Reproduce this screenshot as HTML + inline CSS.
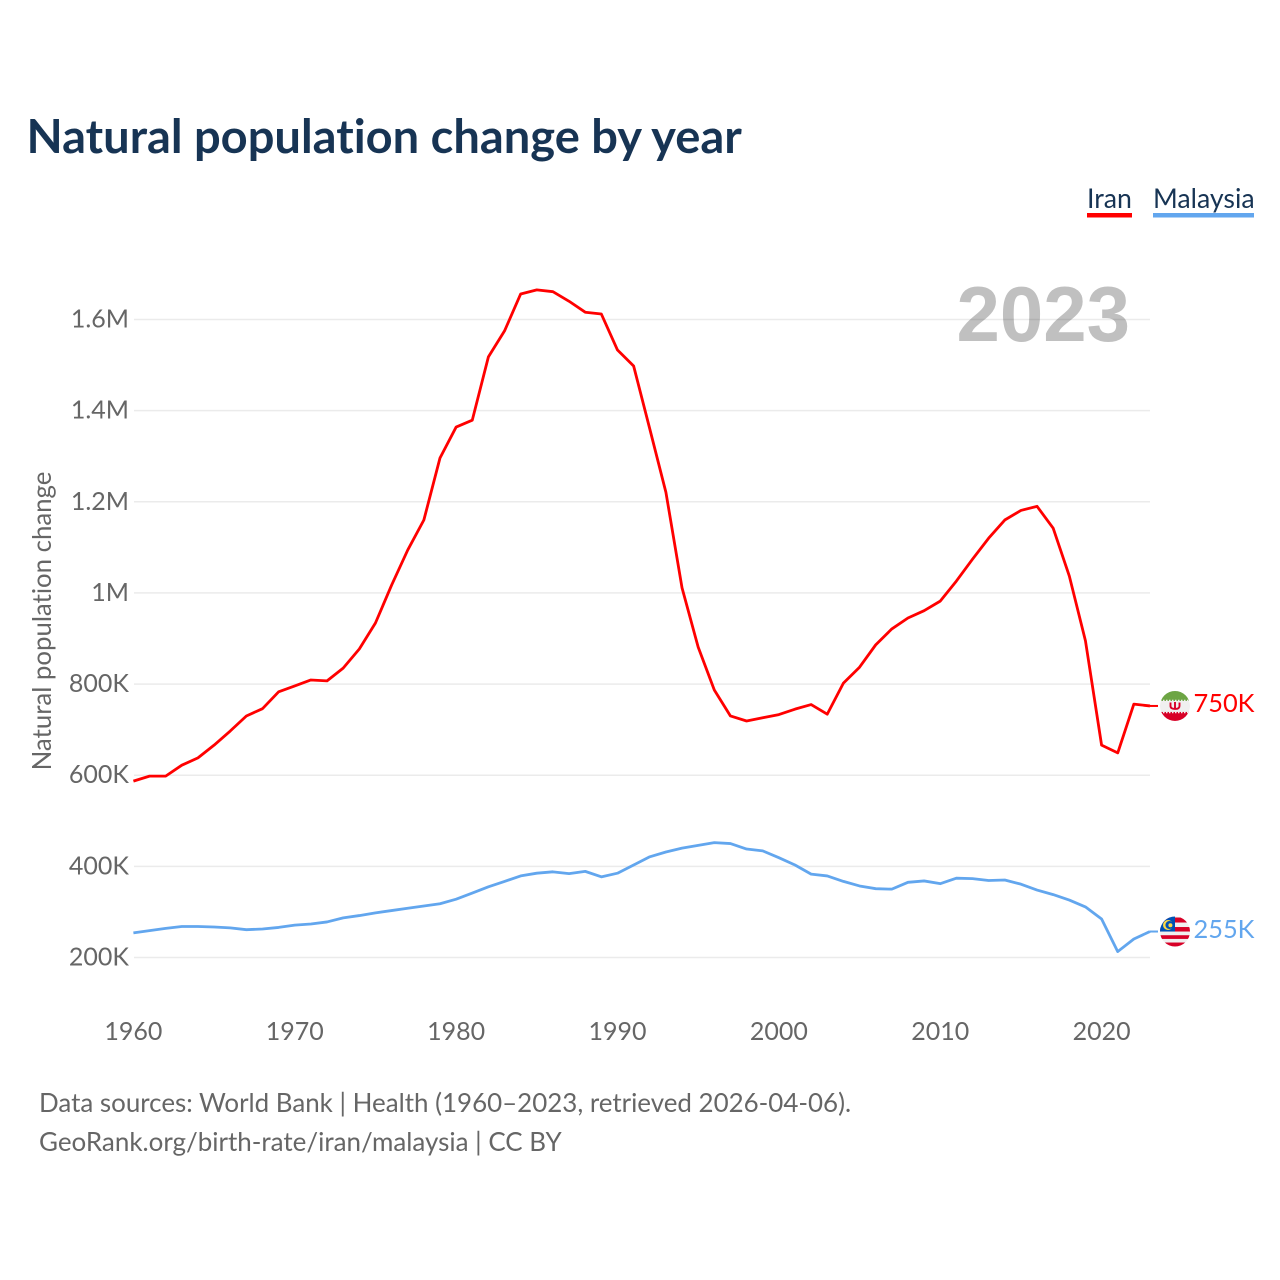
<!DOCTYPE html>
<html lang="en">
<head>
<meta charset="utf-8">
<title>Natural population change by year</title>
<style>
html,body{margin:0;padding:0;background:#fff;}
body{width:1280px;height:1280px;overflow:hidden;}
svg{display:block;}
text{font-family:"Lato","Carlito","Liberation Sans",sans-serif;font-variant-ligatures:none;}
</style>
</head>
<body>
<svg id="chart" xmlns="http://www.w3.org/2000/svg" width="1280" height="1280" viewBox="0 0 1280 1280">
  <defs>
    <clipPath id="flag-clip"><circle cx="0" cy="0" r="15"/></clipPath>
  </defs>
  <rect x="0" y="0" width="1280" height="1280" fill="#fff"/>
  <text x="26.5" y="153" font-size="47.06" font-weight="700" fill="#173454">Natural population change by year</text>

  <g>
    <text x="1087" y="208" font-size="26.7" fill="#173454">Iran</text>
    <rect x="1087" y="213" width="45" height="4.5" fill="#ff0000"/>
  </g>
  <g>
    <text x="1153" y="208" font-size="26.7" fill="#173454">Malaysia</text>
    <rect x="1153" y="213" width="101" height="4.5" fill="#62a6ee"/>
  </g>

  <text x="1130" y="341" text-anchor="end" font-size="78" font-weight="700" fill="#c0c0c0" style="font-family:'Liberation Sans',sans-serif">2023</text>
  <g id="grid"></g>
  <g id="yticks"></g>
  <g id="xticks"></g>
  <text transform="translate(51,621) rotate(-90)" text-anchor="middle" font-size="25.8" fill="#666">Natural population change</text>

  <g id="series"></g>

  <g id="flag-iran" clip-path="url(#flag-clip)">
    <rect x="-15" y="-15" width="30" height="30" fill="#f0f0f0"/>
    <rect x="-15" y="-15" width="30" height="10" fill="#6da544"/>
    <rect x="-15" y="6" width="30" height="9" fill="#d80027"/>
    <line x1="-15" x2="15" y1="-5.5" y2="-5.5" stroke="#f0f0f0" stroke-width="1.5" stroke-dasharray="1.5 1.5"/>
    <line x1="-15" x2="15" y1="6.5" y2="6.5" stroke="#f0f0f0" stroke-width="1.5" stroke-dasharray="1.5 1.5"/>
    <path d="M-4.5 -3.5 V0 Q-4.5 3 0 3 Q4.5 3 4.5 0 V-3.5 M0 -4 V3.5" fill="none" stroke="#d80027" stroke-width="1.9"/>
  </g>
  <g id="flag-malaysia" clip-path="url(#flag-clip)">
    <rect x="-15" y="-15" width="30" height="30" fill="#f0f0f0"/>
    <rect x="-15" y="-14" width="30" height="5" fill="#d80027"/>
    <rect x="-15" y="-4.5" width="30" height="4.5" fill="#d80027"/>
    <rect x="-15" y="3.7" width="30" height="3.7" fill="#d80027"/>
    <rect x="-15" y="11" width="30" height="4" fill="#d80027"/>
    <rect x="-15" y="-15" width="15" height="15" fill="#0052b4"/>
    <circle cx="-7" cy="-6.5" r="5" fill="#ffda44"/>
    <circle cx="-5.6" cy="-6.5" r="4" fill="#0052b4"/>
    <circle cx="-4.6" cy="-6.3" r="2" fill="#ffda44"/>
  </g>

  <text id="value-iran" x="1193.5" text-anchor="start" font-size="25.4" fill="#ff0000"></text>
  <text id="value-malaysia" x="1193.5" text-anchor="start" font-size="25.4" fill="#62a6ee"></text>

  <text x="39" y="1112" font-size="25.93" fill="#666">Data sources: World Bank | Health (1960–2023, retrieved 2026-04-06).</text>
  <text x="39" y="1151" font-size="25.97" fill="#666">GeoRank.org/birth-rate/iran/malaysia | CC BY</text>
</svg>
<script>
const firstYear = 1960;
const iranValues = [587,598,598,622,638,666,697,730,746,783,796,809,807,835,877,934,1017,1094,1160,1296,1364,1379,1518,1575,1656,1665,1661,1640,1616,1612,1533,1498,1360,1221,1011,881,787,730,719,726,733,745,755,734,802,837,886,921,945,961,982,1026,1074,1120,1160,1181,1190,1142,1037,895,666,649,756,752];
const malaysiaValues = [254,259,264,268,268,267,265,261,262.5,266,271,273.5,278,287,292,298,303,308,313,318,328,341.5,355,367,379,385,388,384,389,377,385,403,421,431.5,440,446,452,450,438,434,419,403,383,379,367,357,351,350,365,368,362,374,373,369,370,361,348,338,326,311,284.5,213,240.6,257];
const yTickValues = [200,400,600,800,1000,1200,1400,1600];
const yTickLabels = ['200K','400K','600K','800K','1M','1.2M','1.4M','1.6M'];
const xTickYears = [1960,1970,1980,1990,2000,2010,2020];
const iranEndLabel = '750K';
const malaysiaEndLabel = '255K';

const NS = 'http://www.w3.org/2000/svg';
function xScale(year) { return 133.4 + (year - 1960) * (1150 - 133.4) / 63; }
function yScale(v) { return 957.5 - (v - 200) * (957.5 - 319.5) / 1400; }
function make(tag, parent) {
  const el = document.createElementNS(NS, tag);
  parent.appendChild(el);
  return el;
}

const grid = document.getElementById('grid');
const yticks = document.getElementById('yticks');
yTickValues.forEach(function (v, i) {
  const line = make('line', grid);
  
  
  line.setAttribute('x1', 134);
  line.setAttribute('x2', 1150);
  line.setAttribute('y1', yScale(v));
  line.setAttribute('y2', yScale(v));
  line.setAttribute('stroke', 'rgba(0,0,0,0.08)');
  line.setAttribute('stroke-width', '1.5');
  const t = make('text', yticks);
  
  
  t.setAttribute('x', 129);
  t.setAttribute('y', yScale(v) + 8);
  t.setAttribute('text-anchor', 'end');
  t.setAttribute('font-size', '25');
  t.setAttribute('fill', '#666');
  t.textContent = yTickLabels[i];
});

const xticks = document.getElementById('xticks');
xTickYears.forEach(function (year) {
  const t = make('text', xticks);
  
  
  t.setAttribute('x', xScale(year));
  t.setAttribute('y', 1040);
  t.setAttribute('text-anchor', 'middle');
  t.setAttribute('font-size', '25');
  t.setAttribute('fill', '#666');
  t.textContent = String(year);
});

const seriesGroup = document.getElementById('series');
function drawSeries(values, color) {
  const pts = values.map(function (v, i) {
    return xScale(firstYear + i).toFixed(2) + ',' + yScale(v).toFixed(2);
  }).join(' ');
  const line = make('polyline', seriesGroup);
  line.setAttribute('points', pts);
  line.setAttribute('fill', 'none');
  line.setAttribute('stroke', color);
  line.setAttribute('stroke-width', '2.8');
  line.setAttribute('stroke-linejoin', 'round');
  const lastY = yScale(values[values.length - 1]);
  const lead = make('line', seriesGroup);
  lead.setAttribute('x1', 1150);
  lead.setAttribute('x2', 1158);
  lead.setAttribute('y1', lastY);
  lead.setAttribute('y2', lastY);
  lead.setAttribute('stroke', color);
  lead.setAttribute('stroke-width', '2');
  return { line: line, lead: lead, y: lastY };
}
const iranMark = drawSeries(iranValues, '#ff0000');




const malaysiaMark = drawSeries(malaysiaValues, '#62a6ee');





document.getElementById('flag-iran').setAttribute('transform', 'translate(1175,' + iranMark.y + ')');
document.getElementById('flag-malaysia').setAttribute('transform', 'translate(1175,' + malaysiaMark.y + ')');
const iranLabel = document.getElementById('value-iran');
iranLabel.setAttribute('y', iranMark.y + 6.3);
iranLabel.textContent = iranEndLabel;
const malaysiaLabel = document.getElementById('value-malaysia');
malaysiaLabel.setAttribute('y', malaysiaMark.y + 6.3);
malaysiaLabel.textContent = malaysiaEndLabel;
</script>
</body>
</html>
